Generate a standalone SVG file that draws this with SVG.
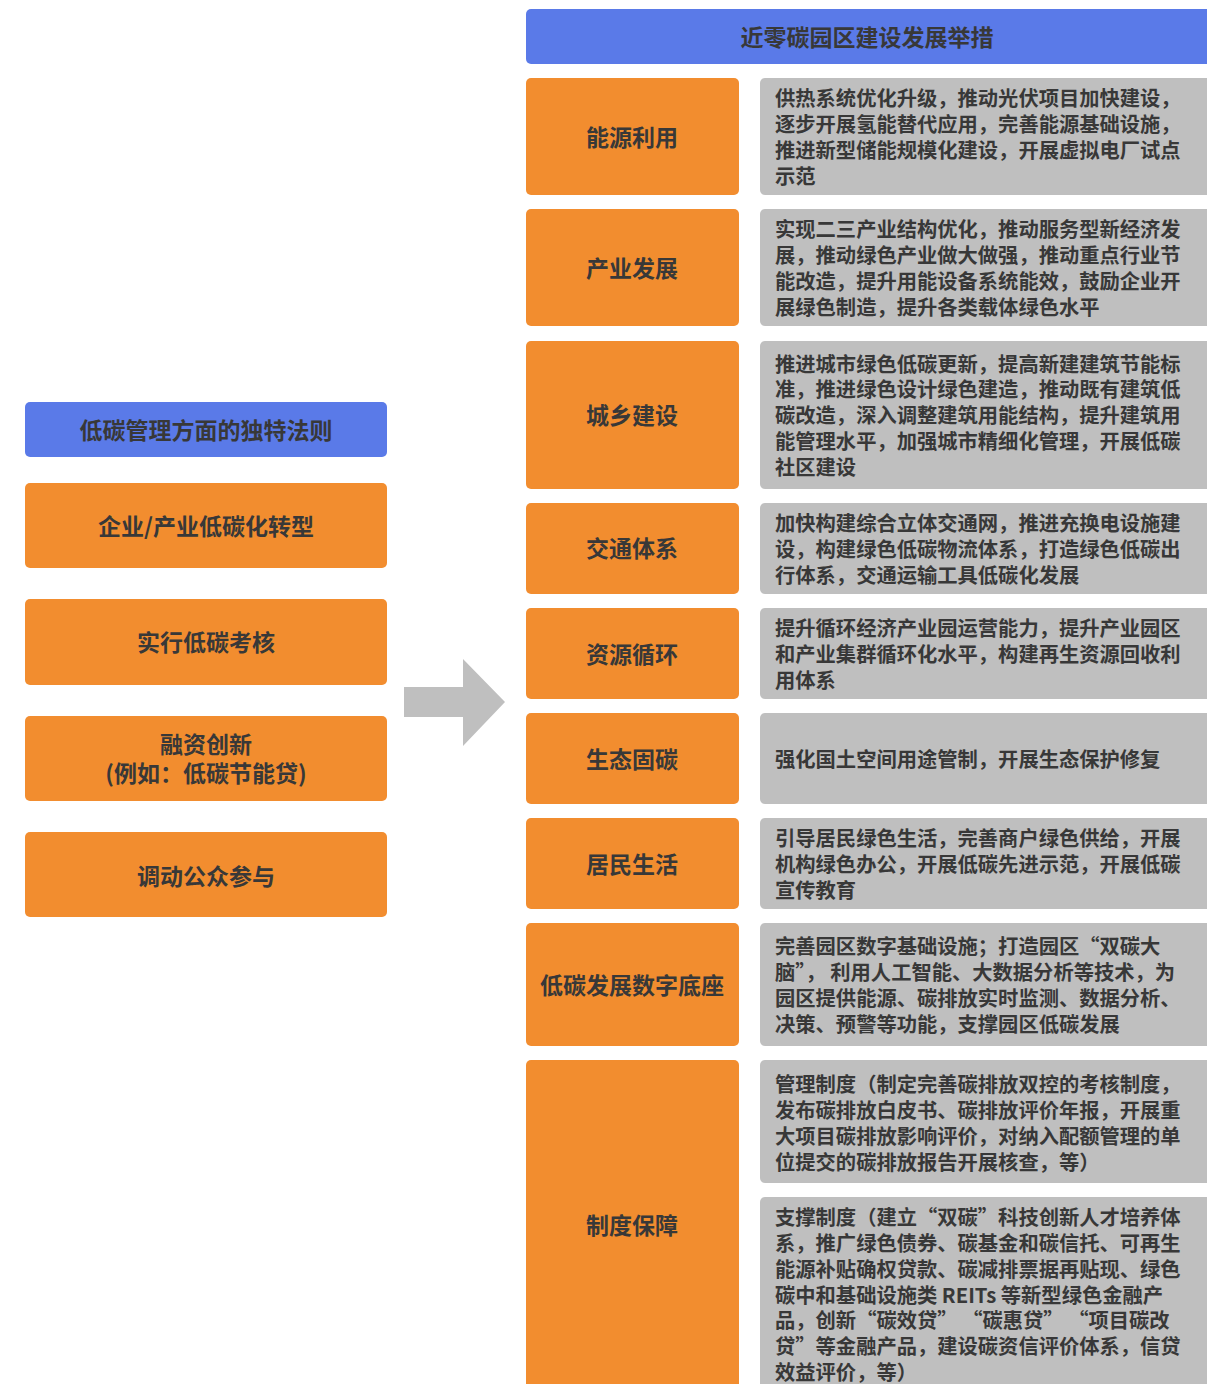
<svg xmlns="http://www.w3.org/2000/svg" width="1207" height="1384" viewBox="0 0 1207 1384">
<style>
.bg{fill:#ffffff}
.blue{fill:#5a7ae8}
.org{fill:#f28d2f}
.gry{fill:#bfbfbf}
text{font-family:"Noto Sans CJK SC","Noto Sans",sans-serif;font-weight:700;fill:#383838}
.h{font-size:23px;text-anchor:middle}
.l{font-size:23px;text-anchor:middle}
.d{font-size:20.3px}
</style>
<rect class="bg" x="0" y="0" width="1207" height="1384"/>

<g id="header-right">
<rect class="blue" x="526" y="9" width="690" height="55" rx="5"/>
<text class="h" x="867" y="46">近零碳园区建设发展举措</text>
</g>

<g id="header-left">
<rect class="blue" x="25" y="402" width="362" height="55" rx="5"/>
<text class="h" x="206" y="439">低碳管理方面的独特法则</text>
</g>

<g id="left-1">
<rect class="org" x="25" y="483" width="362" height="85" rx="5"/>
<text class="h" x="206" y="535">企业/产业低碳化转型</text>
</g>
<g id="left-2">
<rect class="org" x="25" y="599" width="362" height="86" rx="5"/>
<text class="h" x="206" y="651">实行低碳考核</text>
</g>
<g id="left-3">
<rect class="org" x="25" y="716" width="362" height="85" rx="5"/>
<text class="h" x="206" y="753">融资创新</text>
<text class="h" x="206" y="782">(例如：低碳节能贷)</text>
</g>
<g id="left-4">
<rect class="org" x="25" y="832" width="362" height="85" rx="5"/>
<text class="h" x="206" y="885">调动公众参与</text>
</g>

<g id="connectors">
<polygon fill="#bfbfbf" points="404,687 463,687 463,659 505,702 463,746 463,717 404,717"/>
</g>

<g id="row-energy">
<rect class="org" x="526" y="78" width="213" height="117" rx="5"/>
<text class="l" x="632" y="146">能源利用</text>
<rect class="gry" x="760" y="78" width="456" height="117" rx="5"/>
<text class="d" x="775" y="106">供热系统优化升级，推动光伏项目加快建设，</text>
<text class="d" x="775" y="132">逐步开展氢能替代应用，完善能源基础设施，</text>
<text class="d" x="775" y="158">推进新型储能规模化建设，开展虚拟电厂试点</text>
<text class="d" x="775" y="184">示范</text>
</g>

<g id="row-industry">
<rect class="org" x="526" y="209" width="213" height="117" rx="5"/>
<text class="l" x="632" y="277">产业发展</text>
<rect class="gry" x="760" y="209" width="456" height="117" rx="5"/>
<text class="d" x="775" y="237">实现二三产业结构优化，推动服务型新经济发</text>
<text class="d" x="775" y="263">展，推动绿色产业做大做强，推动重点行业节</text>
<text class="d" x="775" y="289">能改造，提升用能设备系统能效，鼓励企业开</text>
<text class="d" x="775" y="315">展绿色制造，提升各类载体绿色水平</text>
</g>

<g id="row-urban">
<rect class="org" x="526" y="341" width="213" height="148" rx="5"/>
<text class="l" x="632" y="424">城乡建设</text>
<rect class="gry" x="760" y="341" width="456" height="148" rx="5"/>
<text class="d" x="775" y="372">推进城市绿色低碳更新，提高新建建筑节能标</text>
<text class="d" x="775" y="397">准，推进绿色设计绿色建造，推动既有建筑低</text>
<text class="d" x="775" y="423">碳改造，深入调整建筑用能结构，提升建筑用</text>
<text class="d" x="775" y="449">能管理水平，加强城市精细化管理，开展低碳</text>
<text class="d" x="775" y="475">社区建设</text>
</g>

<g id="row-transport">
<rect class="org" x="526" y="503" width="213" height="91" rx="5"/>
<text class="l" x="632" y="557">交通体系</text>
<rect class="gry" x="760" y="503" width="456" height="91" rx="5"/>
<text class="d" x="775" y="531">加快构建综合立体交通网，推进充换电设施建</text>
<text class="d" x="775" y="557">设，构建绿色低碳物流体系，打造绿色低碳出</text>
<text class="d" x="775" y="583">行体系，交通运输工具低碳化发展</text>
</g>

<g id="row-resource">
<rect class="org" x="526" y="608" width="213" height="91" rx="5"/>
<text class="l" x="632" y="663">资源循环</text>
<rect class="gry" x="760" y="608" width="456" height="91" rx="5"/>
<text class="d" x="775" y="636">提升循环经济产业园运营能力，提升产业园区</text>
<text class="d" x="775" y="662">和产业集群循环化水平，构建再生资源回收利</text>
<text class="d" x="775" y="688">用体系</text>
</g>

<g id="row-eco">
<rect class="org" x="526" y="713" width="213" height="91" rx="5"/>
<text class="l" x="632" y="768">生态固碳</text>
<rect class="gry" x="760" y="713" width="456" height="91" rx="5"/>
<text class="d" x="775" y="767">强化国土空间用途管制，开展生态保护修复</text>
</g>

<g id="row-life">
<rect class="org" x="526" y="818" width="213" height="91" rx="5"/>
<text class="l" x="632" y="873">居民生活</text>
<rect class="gry" x="760" y="818" width="456" height="91" rx="5"/>
<text class="d" x="775" y="846">引导居民绿色生活，完善商户绿色供给，开展</text>
<text class="d" x="775" y="872">机构绿色办公，开展低碳先进示范，开展低碳</text>
<text class="d" x="775" y="898">宣传教育</text>
</g>

<g id="row-digital">
<rect class="org" x="526" y="923" width="213" height="123" rx="5"/>
<text class="l" x="632" y="994">低碳发展数字底座</text>
<rect class="gry" x="760" y="923" width="456" height="123" rx="5"/>
<text class="d" x="775" y="954">完善园区数字基础设施；打造园区“双碳大</text>
<text class="d" x="775" y="980">脑”， 利用人工智能、大数据分析等技术，为</text>
<text class="d" x="775" y="1006">园区提供能源、碳排放实时监测、数据分析、</text>
<text class="d" x="775" y="1032">决策、预警等功能，支撑园区低碳发展</text>
</g>

<g id="row-system">
<rect class="org" x="526" y="1060" width="213" height="340" rx="5"/>
<text class="l" x="632" y="1234">制度保障</text>
<rect class="gry" x="760" y="1060" width="456" height="123" rx="5"/>
<text class="d" x="775" y="1092">管理制度（制定完善碳排放双控的考核制度，</text>
<text class="d" x="775" y="1118">发布碳排放白皮书、碳排放评价年报，开展重</text>
<text class="d" x="775" y="1144">大项目碳排放影响评价，对纳入配额管理的单</text>
<text class="d" x="775" y="1170">位提交的碳排放报告开展核查，等）</text>
<rect class="gry" x="760" y="1197" width="456" height="203" rx="5"/>
<text class="d" x="775" y="1225">支撑制度（建立“双碳”科技创新人才培养体</text>
<text class="d" x="775" y="1251">系，推广绿色债券、碳基金和碳信托、可再生</text>
<text class="d" x="775" y="1277">能源补贴确权贷款、碳减排票据再贴现、绿色</text>
<text class="d" x="775" y="1303">碳中和基础设施类 REITs 等新型绿色金融产</text>
<text class="d" x="775" y="1328">品，创新“碳效贷” “碳惠贷” “项目碳改</text>
<text class="d" x="775" y="1354">贷”等金融产品，建设碳资信评价体系，信贷</text>
<text class="d" x="775" y="1380">效益评价，等）</text>
</g>
</svg>
